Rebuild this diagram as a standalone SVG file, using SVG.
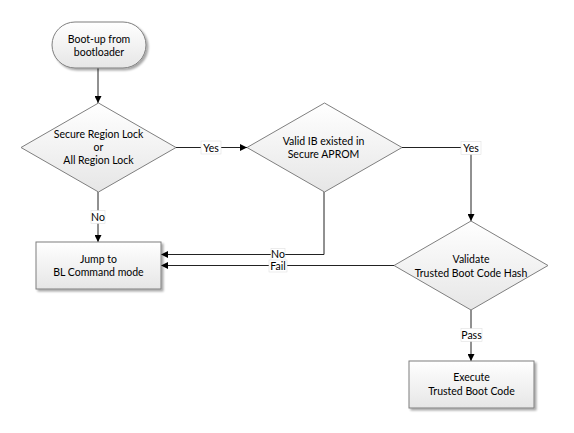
<svg xmlns="http://www.w3.org/2000/svg" width="574" height="433" viewBox="0 0 574 433">
<defs>
<linearGradient id="g" x1="0" y1="0" x2="0" y2="1">
<stop offset="0" stop-color="#ffffff"/>
<stop offset="1" stop-color="#e6e6e6"/>
</linearGradient>
<filter id="sh" x="-10%" y="-10%" width="130%" height="140%">
<feGaussianBlur in="SourceAlpha" stdDeviation="1.2"/>
<feOffset dx="1.5" dy="1.5" result="b"/>
<feComponentTransfer><feFuncA type="linear" slope="0.35"/></feComponentTransfer>
<feMerge><feMergeNode/><feMergeNode in="SourceGraphic"/></feMerge>
</filter>
<marker id="ah" viewBox="0 0 10 10" refX="10" refY="5" markerWidth="7" markerHeight="7" markerUnits="userSpaceOnUse" orient="auto">
<path d="M0,0 L10,5 L0,10 z" fill="#000"/>
</marker>
</defs>
<style>
.shape{fill:url(#g);stroke:#7f7f7f;stroke-width:1;filter:url(#sh)}
.dia{fill:url(#g);stroke:#7f7f7f;stroke-width:1}
text{font-family:"Lato","Liberation Sans",sans-serif;font-size:10.5px;fill:#000;text-anchor:middle;dominant-baseline:central}
.ln{fill:none;stroke:#222;stroke-width:1}
.lb{fill:#fff;stroke:#e0e0e0;stroke-width:0.6}
</style>
<rect width="574" height="433" fill="#fff"/>
<g id="connectors">
<path class="ln" d="M98,68 V103" marker-end="url(#ah)"/>
<path class="ln" d="M176,147.5 H247" marker-end="url(#ah)"/>
<path class="ln" d="M402,147.5 H471 V221" marker-end="url(#ah)"/>
<path class="ln" d="M98,192 V242" marker-end="url(#ah)"/>
<path class="ln" d="M324,192 V254.5 H161" marker-end="url(#ah)"/>
<path class="ln" d="M394,265.5 H161" marker-end="url(#ah)"/>
<path class="ln" d="M471,310 V361" marker-end="url(#ah)"/>
<rect class="lb" x="201" y="141" width="20" height="13"/>
<text x="211" y="147.5">Yes</text>
<rect class="lb" x="461" y="141.5" width="20" height="13"/>
<text x="471" y="148">Yes</text>
<rect class="lb" x="91" y="210.5" width="14" height="13"/>
<text x="98" y="217">No</text>
<rect class="lb" x="271" y="248.5" width="14" height="12"/>
<text x="278" y="254">No</text>
<rect class="lb" x="269" y="260" width="18" height="12"/>
<text x="278" y="266">Fail</text>
<rect class="lb" x="461" y="328.5" width="21" height="13"/>
<text x="471.5" y="335">Pass</text>
</g>
<g id="start">
<rect class="shape" x="52" y="22" width="94" height="46" rx="23" ry="23"/>
<text x="99" y="39">Boot-up from</text>
<text x="99" y="52">bootloader</text>
</g>
<g id="lock">
<polygon class="dia" points="98.5,103 176,147.5 98.5,192 21,147.5"/>
<text x="98.5" y="134">Secure Region Lock</text>
<text x="98.5" y="147">or</text>
<text x="98.5" y="160">All Region Lock</text>
</g>
<g id="valid">
<polygon class="dia" points="324.5,103 402,147.5 324.5,192 247,147.5"/>
<text x="323.5" y="141">Valid IB existed in</text>
<text x="323.5" y="154">Secure APROM</text>
</g>
<g id="hash">
<polygon class="dia" points="471,221 548,265.5 471,310 394,265.5"/>
<text x="471" y="259">Validate</text>
<text x="471" y="272.5">Trusted Boot Code Hash</text>
</g>
<g id="jump">
<rect class="shape" x="36" y="242" width="125" height="47"/>
<text x="98.5" y="259">Jump to</text>
<text x="98.5" y="272">BL Command mode</text>
</g>
<g id="exec">
<rect class="shape" x="409" y="361" width="125" height="47"/>
<text x="471.5" y="377">Execute</text>
<text x="471.5" y="391">Trusted Boot Code</text>
</g>
</svg>
